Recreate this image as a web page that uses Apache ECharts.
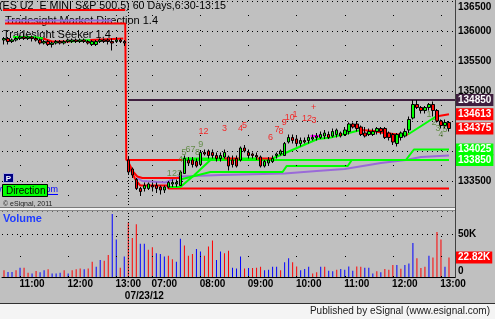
<!DOCTYPE html>
<html><head><meta charset="utf-8">
<script src="https://cdn.jsdelivr.net/npm/echarts@6/dist/echarts.min.js"></script>
<style>html,body{margin:0;padding:0;background:#c0c0c0}#c{width:495px;height:319px}</style>
</head><body><div id="c"></div><script>
// ---------- DATA ----------
// previous session bars (index 0..30), today 07/23/12 bars (index 31..111)
const prevOpen  = [135850,135875,135825,135850,135875,135900,135875,135900,135875,135850,135800,135825,135775,135800,135825,135800,135825,135825,135850,135825,135850,135825,135775,135775,135825,135850,135850,135825,135825,135850,135825];
const prevClose = [135875,135825,135850,135875,135900,135875,135900,135875,135850,135800,135825,135775,135800,135825,135800,135825,135850,135850,135825,135850,135825,135800,135825,135825,135850,135825,135825,135800,135850,135825,135800];
const prevLow   = [135775,135775,135800,135825,135850,135850,135850,135825,135825,135775,135775,135750,135725,135775,135775,135775,135800,135800,135800,135800,135800,135775,135750,135750,135800,135800,135775,135675,135800,135800,135750];
const prevHigh  = [135900,135900,135875,135900,135925,135950,135925,135925,135900,135875,135850,135850,135825,135850,135850,135850,135875,135875,135875,135875,135875,135850,135850,135850,135875,135875,135875,135875,135900,135875,135850];

const dayOpen = [133850,133700,133525,133375,133375,133375,133425,133425,133400,133350,
133400,133450,133450,133425,133625,133850,133850,133825,133775,133975,
134000,133975,133925,133875,133900,133900,133850,133875,133850,134050,
133975,133950,133925,133900,133750,133800,133825,133925,133950,133925,
134150,134225,134200,134125,134175,134175,134200,134225,134225,134250,
134275,134250,134275,134300,134275,134325,134450,134450,134400,134300,
134275,134275,134325,134375,134375,134300,134275,134125,134225,134250,
134350,134550,134775,134725,134675,134725,134775,134675,134500,134425,
134475];
const dayClose = [133650,133600,133375,133325,133425,133450,133400,133375,133350,133400,
133475,133475,133475,133650,133875,133800,133775,133750,133975,133950,
133925,133925,133875,133925,133975,133750,133775,133750,134050,134000,
133925,133925,133900,133750,133825,133850,133875,133950,134000,134125,
134225,134175,134125,134175,134150,134225,134225,134250,134275,134300,
134225,134325,134350,134250,134350,134450,134400,134375,134275,134250,
134325,134325,134375,134325,134225,134225,134150,134275,134300,134325,
134525,134775,134725,134675,134725,134775,134675,134500,134425,134475,
134375];
const dayLow = [133600,133550,133350,133250,133325,133350,133325,133300,133275,133300,
133375,133400,133400,133425,133625,133750,133725,133725,133750,133925,
133875,133875,133825,133825,133875,133675,133725,133725,133825,133975,
133875,133875,133850,133725,133725,133750,133800,133875,133925,133925,
134125,134125,134075,134075,134125,134125,134175,134175,134200,134200,
134200,134225,134225,134225,134250,134275,134375,134325,134250,134225,
134250,134250,134275,134275,134200,134175,134100,134075,134175,134225,
134300,134525,134700,134625,134625,134675,134575,134475,134375,134375,
134325];
const dayHigh = [133900,133725,133550,133400,133475,133475,133475,133475,133425,133425,
133500,133525,133525,133675,133925,133900,133900,133875,134000,134025,
134025,134025,133975,133975,134025,133925,133925,133925,134075,134100,
134025,133975,133975,133925,133850,133900,133925,133975,134025,134150,
134275,134275,134250,134225,134225,134275,134275,134300,134325,134350,
134325,134375,134375,134325,134400,134475,134475,134500,134425,134400,
134375,134375,134400,134400,134400,134325,134300,134300,134325,134375,
134575,134850,134850,134750,134750,134800,134825,134700,134525,134525,
134500];

// volume in thousands, and bar colour side (r = red, b = blue)
const volumeK = [8,6,6,8,11,11,5,4,7,5.5,8,9,4,4,5,8,4,8,9,10,9,10,18,12,20,19,26,74,44,11,24,
64,46,62,39,39,32,35,28,27,24,25,21,18,45,37,25,27,33,30,25,36,43,20,30,28,31,11,10,24,
10,10.6,10.6,11,12,7.8,8.6,12,12,7.8,17.5,22,17.5,12.5,7.8,9.4,12,4,5.5,12,12,7.4,6.7,8.6,9.4,
8.6,12.5,7.4,12.5,12,11,11,4,6.7,5.5,9.4,8.6,14,14,9.8,14,16,40,22,10.6,12,25,23,53,44,12,22.82];
const volumeSide = ('rbbrbrrbrbbrbbbrbrrrbrrbbrrbbrb' + 'rrrbbrrbbbrrbbrrrbbrrrbbrrbbb' +
  'rbrrrbbbbrbbrrbbbrrbrbbrbbbbrrbbbrbrrrbrbbbrrrbrrrbr').split('');

// time axis
const tickIdx  = [7, 19, 31, 40, 52, 64, 76, 88, 100, 112];
const tickText = ['11:00','12:00','13:00','07:00','08:00','09:00','10:00','11:00','12:00','13:00'];
const dateIdx = 35, dateText = '07/23/12';
const gridIdx = [4, 16, 28, 37, 49, 61, 73, 85, 97, 109];
const dayBreakIdx = 31;

// price axis
const priceTicks = [133500, 135000, 135500, 136000, 136500];
const priceTags  = [134850, 134613, 134375, 134025, 133850];
const volumeTags = [22.82];

// indicator lines: [bar position, price]
const topRed     = [[-0.25,136350],[30.25,136350]];
const prevPurple = [[0.25,136175],[27,136175]];
const dirRed     = [[0.25,136125],[30.25,136125],[30.5,133850],[44.5,133850]];
const dirGreen   = [[44.5,133850],[111,133850]];
const stopRed1   = [[30.75,133850],[31.5,133750],[32.25,133650],[33.25,133575],[34.5,133550],[44,133550]];
const stopRed2   = [[31,133800],[32,133625],[33,133500],[34,133425],[35.25,133425],[40.75,133425],[41,133375],[111,133375]];
const dayPurple  = [[33.25,133550],[34.5,133500],[40.25,133475],[42,133525],[44,133575],[54,133600],[70,133625],[78,133667],[85,133700],[94,133800],[100.25,133850],[104,133900],[111,133925]];
const trailB     = [[41,133400],[44,133400],[47.5,133600],[51.5,133850]];
const trailC     = [[44,133525],[51.5,133650],[69.5,133650],[70.5,133750],[85.75,133750],[86.75,133850],[100.25,133850],[102.25,134025],[111,134025]];
const seekerGreen = [
  [[2.25,135900],[7.25,135900],[9.75,135875]],
  [[16.5,135825],[21.5,135850]],
  [[44.5,133875],[55,133875]],
  [[58.5,133875],[63.25,133875]],
  [[67,133875],[78.25,134200],[81.5,134225],[89,134350]],
  [[100.75,134275],[107.75,134575]]
];
const seekerRed = [
  [[9.75,135875],[12,135825],[16.5,135825]],
  [[21.5,135850],[29.75,135875]],
  [[55,133875],[58.5,133875]],
  [[63.25,133875],[67,133875]],
  [[89,134350],[92.25,134333],[94.75,134300],[98.25,134275],[100.75,134275]],
  [[107.75,134575],[111,134613]]
];
const magentaSeg = [[76.5,134250],[79,134250]];
const highLine   = [[31,134850],[112.5,134850]];

// bar counters
const redNotes = [['12',49.75,134333],['3',55,134383],['4',59,134383],['5',60,134425],['6',66.5,134233],
  ['7',68.1,134350],['8',69.1,134317],['9',69.9,134467],['10',71.25,134560],['1',72.6,134610],
  ['12',75.6,134545],['3',77.3,134505],['+',77.25,134733]];
const greenNotes = [['123',42.5,133633],['4',44,133850],['5',44.9,133967],['67',46.5,134017],['8',48.25,133967],
  ['9',49.1,134100],['1',106,134600],['2',107.25,134467],['3',108.25,134383],['4',109,134283],['5',110,134350]];

// ---------- CHART ----------
const FONT = '"Liberation Sans", Arial, sans-serif';
const cats = Array.from({length: 113}, (_, i) => String(i));
const opens = prevOpen.concat(dayOpen), closes = prevClose.concat(dayClose);
const lows = prevLow.concat(dayLow), highs = prevHigh.concat(dayHigh);
const candleData = opens.map((o, i) => [o, closes[i], lows[i], highs[i]]);

const RED = '#ff0000', GREEN = '#00ff00', PURPLE = '#9a6ad8', DARK = '#3f1f3f';
function line(data, color, z) {
  return {type:'line', xAxisIndex:1, yAxisIndex:0, data, symbol:'none', silent:true,
    animation:false, lineStyle:{color, width:2}, z: z || 3};
}
const tagColors = [DARK, RED, RED, GREEN, GREEN];
const tagLabel = (text, bg) => ({show:true, position:'end', distance:1, formatter:text, color:'#fff',
  backgroundColor:bg, padding:[1,2,0,2], fontSize:10, fontWeight:'bold', fontFamily:FONT, lineHeight:11});

const series = [];
series.push(line(topRed, RED));
series.push(line(prevPurple, PURPLE));
series.push(line(dayPurple, PURPLE));
series.push(line(stopRed1, RED));
series.push(line(stopRed2, RED));
series.push(line(trailB, GREEN));
series.push(line(trailC, GREEN));
series.push(line(dirGreen, GREEN));
series.push(line(dirRed, RED));
seekerGreen.forEach(s => series.push(line(s, GREEN, 4)));
seekerRed.forEach(s => series.push(line(s, RED, 4)));
series.push(line(magentaSeg, '#ff00ff', 4));
const hi = line(highLine, DARK, 4);
hi.markLine = {symbol:['none','none'], silent:true, animation:false,
  data: priceTags.map((v, i) => ({yAxis: v, lineStyle:{width:0, color:'rgba(0,0,0,0)'}, label: tagLabel(String(v), tagColors[i])}))};
series.push(hi);

const vDots = gridIdx.map(k => ({xAxis: k, lineStyle:{color:'#000', width:1, type:[1,14]}}));
series.push({type:'candlestick', xAxisIndex:0, yAxisIndex:0, data:candleData, barWidth:3, z:5,
  animation:false, silent:true,
  itemStyle:{color:GREEN, color0:RED, borderColor:'#000', borderColor0:'#000', borderWidth:1},
  markLine:{symbol:['none','none'], silent:true, animation:false, label:{show:false},
    data:[{xAxis: dayBreakIdx, lineStyle:{color:'#000', width:1, type:[1,2]}}].concat(vDots)}});

function notes(list, color, size, bold) {
  return {type:'scatter', xAxisIndex:1, yAxisIndex:0, symbolSize:0, z:6, silent:true, animation:false,
    data: list.map(n => ({name:n[0], value:[n[1], n[2]]})),
    label:{show:true, position:'inside', formatter:'{b}', color, fontSize:size, fontFamily:FONT, fontWeight: bold ? 'bold' : 'normal'}};
}
series.push(notes(redNotes, RED, 9, false));
series.push(notes(greenNotes, '#4d7f2c', 9, false));

series.push({type:'bar', xAxisIndex:2, yAxisIndex:1, barWidth:1, silent:true, animation:false,
  data: volumeK.map((v, i) => ({value:v, itemStyle:{color: volumeSide[i] === 'r' ? RED : '#0000ff'}})),
  markLine:{symbol:['none','none'], silent:true, animation:false,
    data:[{xAxis: dayBreakIdx, lineStyle:{color:'#000', width:1, type:[1,2]}, label:{show:false}}]
      .concat(gridIdx.map(k => ({xAxis:k, lineStyle:{color:'#000', width:1, type:[1,19]}, label:{show:false}})))
      .concat(volumeTags.map(v => ({yAxis:v, lineStyle:{width:0, color:'rgba(0,0,0,0)'}, label: tagLabel(v + 'K', RED)})))}});

const axisText = {color:'#000', fontSize:10, fontWeight:'bold', fontFamily:FONT};
const option = {
  backgroundColor:'#c0c0c0',
  animation:false,
  grid:[{left:2, right:40, top:1, height:210}, {left:2, right:40, top:211, height:66}],
  xAxis:[
    {type:'category', gridIndex:0, data:cats, boundaryGap:true, show:false, position:'bottom'},
    {type:'value', gridIndex:0, min:-0.5, max:112.5, show:false, position:'bottom'},
    {type:'category', gridIndex:1, data:cats, boundaryGap:true, position:'bottom',
      axisLine:{lineStyle:{color:'#000', width:1}}, axisTick:{show:false}, splitLine:{show:false},
      axisLabel:Object.assign({margin:2, interval:(i) => tickIdx.indexOf(i) >= 0,
        formatter:(v) => { const j = tickIdx.indexOf(Number(v)); return j >= 0 ? tickText[j] : ''; }}, axisText)},
    {type:'category', gridIndex:1, data:cats, boundaryGap:true, position:'bottom', offset:0,
      axisLine:{show:false}, axisTick:{show:false}, splitLine:{show:false},
      axisLabel:Object.assign({margin:14, interval:(i) => i === dateIdx, formatter:() => dateText}, axisText)}
  ],
  yAxis:[
    {type:'value', gridIndex:0, position:'right', min:133000, max:136500, interval:500,
      axisLine:{show:false}, axisTick:{show:false},
      splitLine:{show:true, lineStyle:{color:'#000', width:1, type:[1,4]}},
      axisLabel:Object.assign({margin:3,
        formatter:(v) => priceTicks.indexOf(v) < 0 ? '' : (v === 136500 ? '{t|' + v + '}' : String(v)),
        rich:{t:Object.assign({padding:[12,0,0,0]}, axisText)}}, axisText)},
    {type:'value', gridIndex:1, position:'right', min:0, max:77.65, interval:50,
      axisLine:{show:false}, axisTick:{show:false},
      splitLine:{show:true, lineStyle:{color:'#000', width:1, type:[1,4]}},
      axisLabel:Object.assign({margin:3,
        formatter:(v) => v === 50 ? '50K' : (v === 0 ? '{z|0}' : ''),
        rich:{z:Object.assign({padding:[0,0,12,0]}, axisText)}}, axisText)}
  ],
  graphic:[
    {type:'text', z:1, x:-1, y:1, style:{text:'(ES U2  E MINI S&P 500,5) 60 Days,6:30-13:15', font:'10.7px ' + FONT, fill:'#000'}},
    {type:'text', z:1, x:5, y:15, style:{text:'Tradesight Market Direction 1.4', font:'11px ' + FONT, fill:'#000'}},
    {type:'text', z:1, x:3, y:29, style:{text:'Tradesight Seeker 1.4', font:'11px ' + FONT, fill:'#000'}},
    {type:'rect', z:100, shape:{x:0, y:207, width:455, height:4.5}, style:{fill:'#c0c0c0'}},
    {type:'line', z:101, shape:{x1:0, y1:207.5, x2:455, y2:207.5}, style:{stroke:'#7a7a7a', lineWidth:1}},
    {type:'rect', z:101, shape:{x:0, y:208, width:455, height:2}, style:{fill:'#f4f4f4'}},
    {type:'line', z:101, shape:{x1:0, y1:210.5, x2:455, y2:210.5}, style:{stroke:'#8a8a8a', lineWidth:1}},
    {type:'line', z:102, shape:{x1:455.5, y1:0, x2:455.5, y2:278}, style:{stroke:'#404040', lineWidth:1}},
    {type:'text', z:100, x:58, y:190, style:{text:'www.esignal.com', font:'9px ' + FONT, fill:'#0000ff', align:'right', verticalAlign:'middle'}},
    {type:'line', z:100, shape:{x1:2, y1:194.5, x2:58, y2:194.5}, style:{stroke:'#0000ff', lineWidth:1}},
    {type:'rect', z:101, shape:{x:2.5, y:184.5, width:45, height:12}, style:{fill:'#00ff00', stroke:'#000', lineWidth:1}},
    {type:'text', z:102, x:6, y:191, style:{text:'Direction', font:'10px ' + FONT, fill:'#000', verticalAlign:'middle'}},
    {type:'rect', z:101, shape:{x:3.5, y:173.5, width:10, height:9}, style:{fill:'#000080', stroke:'#b0b0e0', lineWidth:1}},
    {type:'text', z:102, x:8.5, y:178.5, style:{text:'P', font:'bold 8px ' + FONT, fill:'#fff', align:'center', verticalAlign:'middle'}},
    {type:'text', z:100, x:3, y:204, style:{text:'\u00a9 eSignal, 2011', font:'7px ' + FONT, fill:'#202020', verticalAlign:'middle'}},
    {type:'text', z:100, x:3, y:219, style:{text:'Volume', font:'bold 11px ' + FONT, fill:'#1f3cff', verticalAlign:'middle'}},
    {type:'rect', z:100, shape:{x:0, y:304, width:495, height:15}, style:{fill:'#f4f4f4'}},
    {type:'line', z:101, shape:{x1:0, y1:303.5, x2:495, y2:303.5}, style:{stroke:'#303030', lineWidth:1}},
    {type:'text', z:101, x:490, y:311, style:{text:'Published by eSignal (www.esignal.com)', font:'10px ' + FONT, fill:'#202020', align:'right', verticalAlign:'middle'}}
  ],
  series
};
const chart = echarts.init(document.getElementById('c'), null, {renderer:'canvas'});
chart.setOption(option);
</script></body></html>
